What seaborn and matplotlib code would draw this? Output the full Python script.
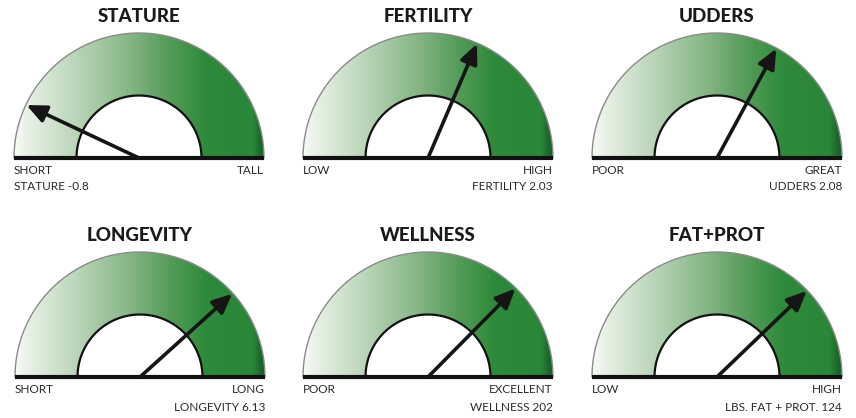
import numpy as np
import matplotlib.pyplot as plt
import seaborn as sns
from matplotlib.patches import Wedge
from matplotlib.colors import LinearSegmentedColormap

# gauge data
titles = ["STATURE", "FERTILITY", "UDDERS", "LONGEVITY", "WELLNESS", "FAT+PROT"]
low_labels = ["SHORT", "LOW", "POOR", "SHORT", "POOR", "LOW"]
high_labels = ["TALL", "HIGH", "GREAT", "LONG", "EXCELLENT", "HIGH"]
value_names = ["STATURE", "FERTILITY", "UDDERS", "LONGEVITY", "WELLNESS", "LBS. FAT + PROT."]
values = [-0.8, 2.03, 2.08, 6.13, 202, 124]
value_text = ["-0.8", "2.03", "2.08", "6.13", "202", "124"]
scale_min = [-1.5, -3.0, -2.0, 0.0, 0.0, -50]
scale_max = [3.5, 5.0, 4.2, 8.0, 270, 180]

sns.set_theme(style="white")
plt.rcParams['font.family'] = ['Lato', 'DejaVu Sans']

W, H = 856, 418
R = 125.0  # outer radius in pixels
centers = [(139, 158), (428, 158), (717, 158), (140, 377), (428, 377), (717, 377)]

green = LinearSegmentedColormap.from_list(
    "gauge",
    [(0.0, "#f8fbf7"), (0.05, "#e8f1e6"), (0.2, "#c5dcc3"), (0.45, "#88b787"),
     (0.6, "#5b9e5e"), (0.76, "#2f8b3b"), (0.955, "#2a8638"),
     (0.98, "#1e6c2b"), (1.0, "#17602a")])
grad = np.linspace(0, 1, 400).reshape(1, -1)

fig = plt.figure(figsize=(W / 100, H / 100), dpi=100)

for i in range(6):
    cx, cy = centers[i]
    x0, x1 = cx - 145, cx + 145
    ytop, ybot = cy - 160, cy + 35
    ax = fig.add_axes([x0 / W, 1 - ybot / H, (x1 - x0) / W, (ybot - ytop) / H])
    ax.set_xlim(-145 / R, 145 / R)
    ax.set_ylim(-35 / R, 160 / R)
    ax.axis("off")

    ring = Wedge((0, 0), 1.0, 0, 180, width=0.5, facecolor="none",
                 edgecolor="none")
    ax.add_patch(ring)
    img = ax.imshow(grad, cmap=green, extent=[-1, 1, 0, 1], aspect="auto",
                    interpolation="bicubic", zorder=1)
    img.set_clip_path(ring)

    # outlines
    th = np.linspace(0, np.pi, 300)
    ax.plot(np.cos(th), np.sin(th), color="#8a8a8a", lw=1.0, zorder=3)
    ax.plot(0.5 * np.cos(th), 0.5 * np.sin(th), color="#111111", lw=1.6, zorder=3)
    ax.plot([-1, 1], [0, 0], color="#111111", lw=3.0, solid_capstyle="butt", zorder=4)

    # needle
    frac = (values[i] - scale_min[i]) / (scale_max[i] - scale_min[i])
    ang = np.pi * (1 - frac)
    tip = (0.995 * np.cos(ang), 0.995 * np.sin(ang))
    ax.annotate("", xy=tip, xytext=(0, 0),
                arrowprops=dict(arrowstyle="-|>,head_length=0.85,head_width=0.38",
                                mutation_scale=14, lw=2.6, color="#151515",
                                shrinkA=0, shrinkB=0),
                zorder=5)

    # text
    ax.text(0, 1.13, titles[i], ha="center", va="center", fontsize=13.5,
            fontweight="black", color="#1a1a1a")
    ax.text(-1, -0.10, low_labels[i], ha="left", va="center", fontsize=8.5,
            color="#2a2a2a")
    ax.text(1, -0.10, high_labels[i], ha="right", va="center", fontsize=8.5,
            color="#2a2a2a")
    label = value_names[i] + " " + value_text[i]
    ypos = -0.225 if i < 3 else -0.245
    if frac < 0.5:
        ax.text(-1, ypos, label, ha="left", va="center", fontsize=8.5, color="#2a2a2a")
    else:
        ax.text(1, ypos, label, ha="right", va="center", fontsize=8.5, color="#2a2a2a")

fig.savefig("out.png", dpi=100, facecolor="white")
